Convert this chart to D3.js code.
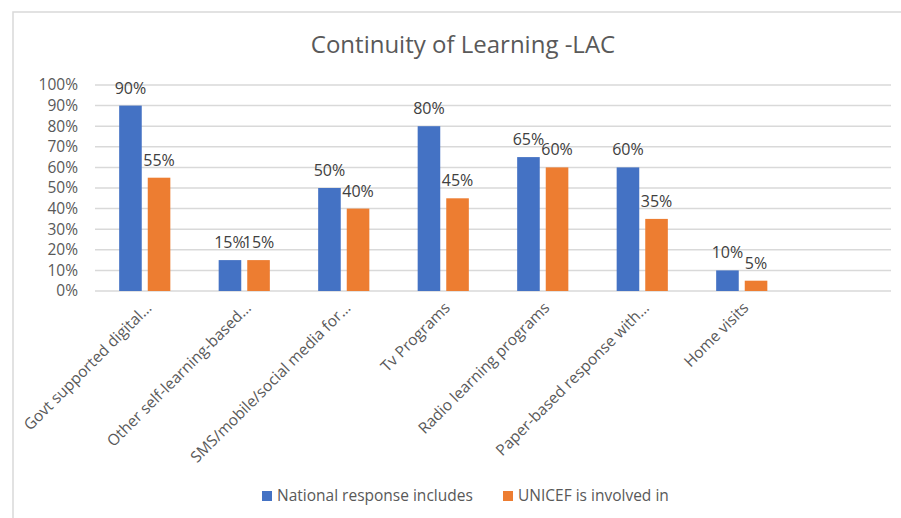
<!DOCTYPE html>
<html>
<head>
  <meta charset="utf-8">
  <title>Continuity of Learning -LAC</title>
  <script src="https://cdn.jsdelivr.net/npm/d3@7/dist/d3.min.js"></script>
  <style>
    body { margin: 0; background: #fff; }
    text { font-family: "Segoe UI", "Open Sans", sans-serif; }
    .grid line { stroke: #d9d9d9; stroke-width: 1.5; }
    .ylab { font-size: 15.5px; fill: #595959; }
    .xlab { font-size: 15.5px; fill: #595959; }
    .val { font-size: 16px; fill: #404040; }
    .legend text { font-size: 15.5px; fill: #595959; }
  </style>
</head>
<body>
<svg id="chart"></svg>
<script>
  // data
  var categories = ['Govt supported digital\u2026', 'Other self-learning-based\u2026',
    'SMS/mobile/social media for\u2026', 'Tv Programs', 'Radio learning programs',
    'Paper-based response with\u2026', 'Home visits', ''];
  var national = [0.90, 0.15, 0.50, 0.80, 0.65, 0.60, 0.10, null];
  var unicef = [0.55, 0.15, 0.40, 0.45, 0.60, 0.35, 0.05, null];
  var seriesNames = ['National response includes', 'UNICEF is involved in'];
  var colors = ['#4472C4', '#ED7D31'];
  var yTicks = [0, 0.1, 0.2, 0.3, 0.4, 0.5, 0.6, 0.7, 0.8, 0.9, 1.0];

  var W = 901, H = 518;
  var margin = { top: 85, left: 95, right: 10, bottom: 227 };
  var width = W - margin.left - margin.right,
    height = H - margin.top - margin.bottom;

  var svg = d3.select('#chart').attr('width', W).attr('height', H);

  // chart frame (cut off at right / bottom like the screenshot)
  svg.append('rect')
    .attr('x', 13).attr('y', 12)
    .attr('width', W).attr('height', H)
    .attr('fill', 'none').attr('stroke', '#d9d9d9').attr('stroke-width', 1.5);

  svg.append('text')
    .attr('x', 463).attr('y', 53)
    .attr('text-anchor', 'middle')
    .style('font-size', '24px').style('fill', '#595959')
    .text('Continuity of Learning -LAC');

  var g = svg.append('g')
    .attr('transform', 'translate(' + margin.left + ',' + margin.top + ')');

  var x = d3.scaleBand().domain(categories.map((d, i) => i)).range([0, width]);
  var y = d3.scaleLinear().domain([0, 1]).range([height, 0]);

  var grid = g.append('g').attr('class', 'grid');
  grid.selectAll('line').data(yTicks).enter().append('line')
    .attr('x1', 0).attr('x2', width)
    .attr('y1', d => y(d)).attr('y2', d => y(d));

  g.selectAll('.ylab').data(yTicks).enter().append('text')
    .attr('class', 'ylab')
    .attr('x', -17).attr('y', d => y(d))
    .attr('dy', '0.35em')
    .attr('text-anchor', 'end')
    .text(d3.format('.0%'));

  var bw = x.bandwidth() * 0.227, gap = 6;
  var series = [national, unicef];
  series.forEach(function (vals, s) {
    var data = vals.map((v, i) => ({ i: i, v: v })).filter(d => d.v != null);
    var off = s === 0 ? -gap / 2 - bw : gap / 2;
    g.selectAll('.bar' + s).data(data).enter().append('rect')
      .attr('x', d => x(d.i) + x.bandwidth() / 2 + off)
      .attr('y', d => y(d.v))
      .attr('width', bw)
      .attr('height', d => height - y(d.v))
      .attr('fill', colors[s]);
    g.selectAll('.val' + s).data(data).enter().append('text')
      .attr('class', 'val')
      .attr('x', d => x(d.i) + x.bandwidth() / 2 + off + bw / 2)
      .attr('y', d => y(d.v) - 12)
      .attr('text-anchor', 'middle')
      .text(d => d3.format('.0%')(d.v));
  });

  g.selectAll('.xlab').data(categories).enter().append('text')
    .attr('class', 'xlab')
    .attr('text-anchor', 'end')
    .attr('transform', (d, i) => 'translate(' + (x(i) + x.bandwidth() / 2 + 4) + ',' + (height + 14) + ') rotate(-45)')
    .attr('dy', '0.35em')
    .text(d => d);

  var legend = svg.append('g').attr('class', 'legend');
  var lx = [262, 503];
  seriesNames.forEach(function (name, s) {
    legend.append('rect')
      .attr('x', lx[s]).attr('y', 491)
      .attr('width', 10).attr('height', 10)
      .attr('fill', colors[s]);
    legend.append('text')
      .attr('x', lx[s] + 15).attr('y', 496)
      .attr('dy', '0.35em')
      .text(name);
  });
</script>
</body>
</html>
